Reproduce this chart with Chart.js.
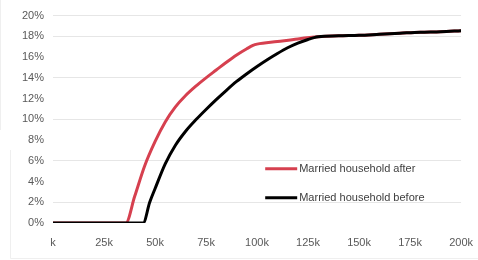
<!DOCTYPE html>
<html>
<head>
  <meta charset="UTF-8">
  <title>Married household</title>
  <script src="https://cdn.jsdelivr.net/npm/chart.js"></script>
</head>
<body style="margin:0;background:#fff">
  <div style="width:478px;height:260px"><canvas id="chart" width="478" height="260"></canvas></div>
  <script>
    // income in thousands, rate in percent
    const afterIncome = [0, 35.7, 40, 45, 50, 55, 60, 65, 70, 75, 80, 85, 90, 95, 98, 100, 110, 120, 130, 140, 150, 160, 170, 180, 190, 200];
    const afterRate   = [0, 0, 2.55, 5.55, 7.85, 9.75, 11.2, 12.3, 13.2, 14.0, 14.75, 15.5, 16.2, 16.8, 17.12, 17.25, 17.5, 17.75, 17.95, 18.05, 18.1, 18.2, 18.3, 18.4, 18.45, 18.55];
    const beforeIncome = [0, 44.2, 47.4, 50, 55, 60, 65, 70, 75, 80, 85, 90, 95, 100, 105, 110, 115, 120, 125, 130, 140, 150, 160, 170, 180, 190, 200];
    const beforeRate   = [0, 0, 2, 3.3, 5.7, 7.5, 8.85, 9.95, 10.95, 11.9, 12.8, 13.65, 14.4, 15.1, 15.75, 16.35, 16.9, 17.35, 17.7, 17.95, 18.05, 18.1, 18.2, 18.3, 18.4, 18.45, 18.55];
    const xTickLabels = ['k', '25k', '50k', '75k', '100k', '125k', '150k', '175k', '200k'];
    const seriesNames = ['Married household after', 'Married household before'];
    const seriesColors = ['#d6404f', '#000000'];

    const toPoints = (xs, ys) => xs.map((x, i) => ({ x: x, y: ys[i] }));
    const shownGrid = [20, 18, 14, 10, 6, 2];

    const legendInside = {
      id: 'legendInside',
      afterDatasetsDraw(chart) {
        const c = chart.ctx, a = chart.chartArea;
        c.save();
        c.font = '11px "Liberation Sans", Arial, sans-serif';
        c.textBaseline = 'middle';
        seriesNames.forEach((name, i) => {
          const y = a.top + (a.bottom - a.top) * (0.738 + i * 0.14);
          const x0 = a.left + (a.right - a.left) * 0.52;
          c.strokeStyle = seriesColors[i];
          c.lineWidth = 3;
          c.beginPath(); c.moveTo(x0, y); c.lineTo(x0 + 32, y); c.stroke();
          c.fillStyle = '#404040';
          c.fillText(name, x0 + 34, y);
        });
        c.strokeStyle = '#efefef';
        c.lineWidth = 1;
        c.beginPath();
        c.moveTo(10.5, 150); c.lineTo(10.5, 258.5); c.lineTo(478, 258.5);
        c.moveTo(0.5, 0); c.lineTo(0.5, 130);
        c.stroke();
        c.restore();
      }
    };

    const ctx = document.getElementById('chart').getContext('2d');
    new Chart(ctx, {
      type: 'line',
      data: {
        datasets: [{
          label: seriesNames[1],
          data: toPoints(beforeIncome, beforeRate),
          borderColor: seriesColors[1],
          borderWidth: 3,
          pointRadius: 0,
          cubicInterpolationMode: 'monotone',
          order: 0
        }, {
          label: seriesNames[0],
          data: toPoints(afterIncome, afterRate),
          borderColor: seriesColors[0],
          borderWidth: 3,
          pointRadius: 0,
          cubicInterpolationMode: 'monotone',
          order: 1
        }]
      },
      options: {
        responsive: false,
        animation: false,
        layout: { padding: { left: 0, right: 10, top: 9, bottom: 0 } },
        plugins: { legend: { display: false }, tooltip: { enabled: false } },
        scales: {
          x: {
            type: 'linear', min: 0, max: 200,
            afterFit: s => { s.height = 37; },
            grid: { display: false },
            border: { display: false },
            ticks: {
              stepSize: 25, maxRotation: 0, padding: 5,
              color: '#595959',
              font: { family: '"Liberation Sans", Arial, sans-serif', size: 11 },
              callback: v => xTickLabels[v / 25]
            }
          },
          y: {
            min: 0, max: 20,
            afterFit: s => { s.width = 53; },
            grid: {
              drawTicks: false,
              color: c => shownGrid.includes(c.tick.value) ? '#e6e6e6' : 'rgba(0,0,0,0)'
            },
            border: { display: false },
            ticks: {
              stepSize: 2, padding: 9,
              color: '#595959',
              font: { family: '"Liberation Sans", Arial, sans-serif', size: 11 },
              callback: v => v + '%'
            }
          }
        }
      },
      plugins: [legendInside]
    });
  </script>
</body>
</html>
